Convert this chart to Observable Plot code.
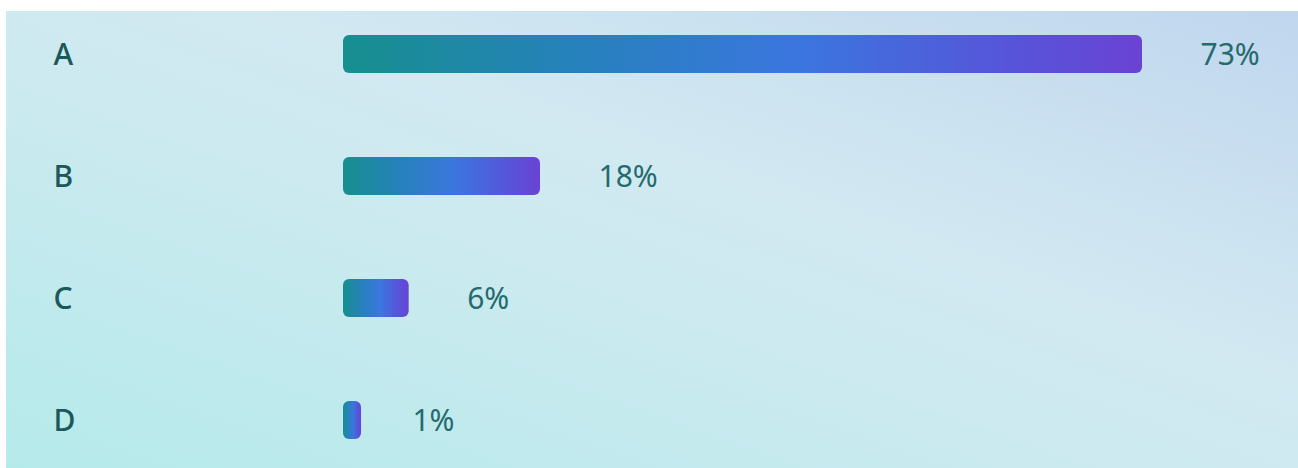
<!DOCTYPE html>
<html>
<head>
<meta charset="utf-8">
<script src="https://cdn.jsdelivr.net/npm/d3@7"></script>
<script src="https://cdn.jsdelivr.net/npm/@observablehq/plot@0.6"></script>
<style>
  html, body { margin: 0; padding: 0; background: #ffffff; }
  #wrap {
    position: absolute; left: 6px; top: 11px; width: 1292px; height: 457px;
    background: linear-gradient(to top right, #b5eaeb 0%, #cdeaf0 45%, #d2e9f2 60%, #c0d6ee 100%);
    overflow: hidden;
  }
  #wrap svg { display: block; background: transparent; }
</style>
</head>
<body>
<div id="wrap"></div>
<script>
const categories = ["A", "B", "C", "D"];
const values = [73, 18, 6, 1];
const valueLabels = ["73%", "18%", "6%", "1%"];

const data = categories.map((c, i) => ({ cat: c, value: values[i], label: valueLabels[i] }));

const W = 1292, H = 457;
const font = "'Noto Sans', 'Open Sans', sans-serif";

const chart = Plot.plot({
  width: W,
  height: H,
  margin: 0,
  style: { background: "transparent", fontFamily: font, overflow: "visible" },
  x: { domain: [0, 73], range: [337, 1136], axis: null },
  y: { domain: categories, range: [23, 429], paddingInner: 0.69, paddingOuter: 0, axis: null },
  marks: [
    Plot.barX(data, { y: "cat", x1: 0, x2: "value", fill: "url(#barGrad)", rx: 6, ry: 6 }),
    Plot.text(data, {
      y: "cat", text: "cat", frameAnchor: "left", dx: 47, dy: 1, textAnchor: "start",
      fontSize: 30, fontWeight: 500, fill: "#1a5859"
    }),
    Plot.text(data, {
      y: "cat", x: "value", text: "label", dx: 58, dy: 1, textAnchor: "start",
      fontSize: 30, fontWeight: 400, fill: "#236b6c"
    })
  ]
});

const svg = d3.select(chart);
const defs = svg.insert("defs", ":first-child");
const grad = defs.append("linearGradient").attr("id", "barGrad")
  .attr("x1", "0%").attr("y1", "0%").attr("x2", "100%").attr("y2", "0%");
[["0%", "#168f8e"], ["30%", "#2781bd"], ["57%", "#3b76df"], ["85%", "#5853d9"], ["100%", "#6a43d3"]]
  .forEach(([o, c]) => grad.append("stop").attr("offset", o).attr("stop-color", c));

// minimum visible bar width (styling)
svg.selectAll("rect").each(function () {
  const r = d3.select(this);
  const w = +r.attr("width");
  if (w < 18) r.attr("width", 18);
});

document.getElementById("wrap").appendChild(chart);
</script>
</body>
</html>
